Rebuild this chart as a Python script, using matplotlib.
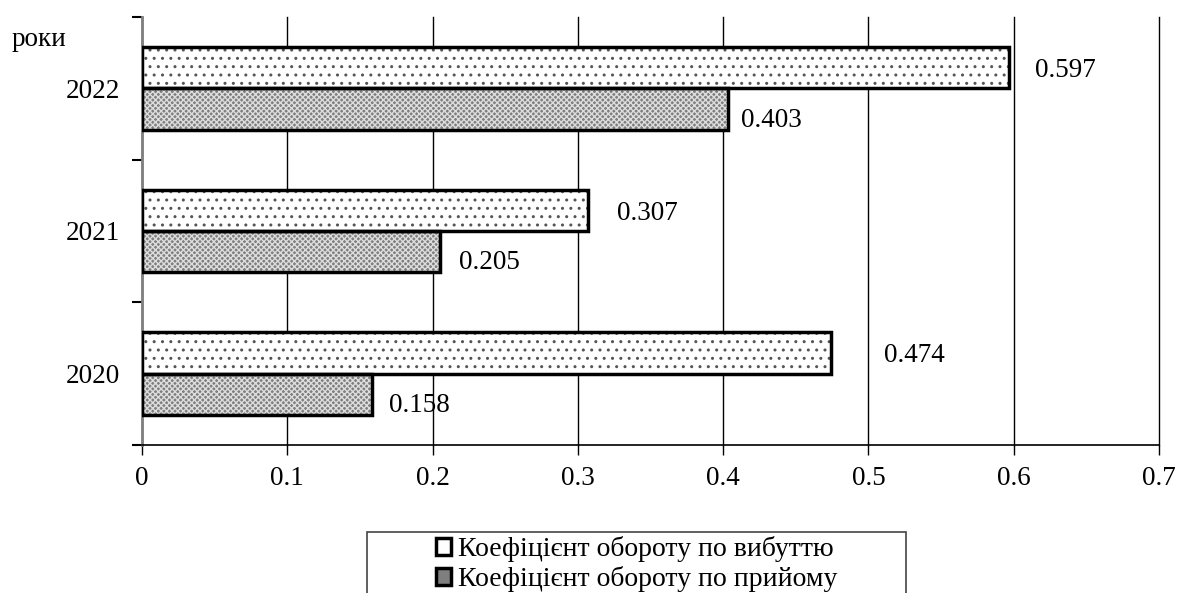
import matplotlib
matplotlib.use("Agg")
import matplotlib.pyplot as plt
import numpy as np
from matplotlib.patches import Patch, Rectangle

years = ["2020", "2021", "2022"]
vybuttia = [0.474, 0.307, 0.597]   # Коефіцієнт обороту по вибуттю
pryiom = [0.158, 0.205, 0.403]     # Коефіцієнт обороту по прийому
series_labels = ["Коефіцієнт обороту по вибуттю", "Коефіцієнт обороту по прийому"]
x_ticks = [0, 0.1, 0.2, 0.3, 0.4, 0.5, 0.6, 0.7]
x_ticklabels = ["0", "0.1", "0.2", "0.3", "0.4", "0.5", "0.6", "0.7"]

plt.rcParams['font.family'] = ['Liberation Serif', 'DejaVu Serif']
plt.rcParams['hatch.linewidth'] = 1.0
FS = 19.5

fig = plt.figure(figsize=(11.78, 5.93), dpi=100)
ax = fig.add_axes([142/1178, 1 - 445/593, (1159-142)/1178, (445-17)/593])

pos = np.arange(len(years))
h = 0.29
# hatch layers
ax.barh(pos + h/2, vybuttia, height=h, color='white', edgecolor='#555555', hatch='..', linewidth=0, zorder=3)
ax.barh(pos - h/2, pryiom, height=h, color='#7f7f7f', edgecolor='#dddddd', hatch='xxxxxx', linewidth=0, zorder=3)
# outlines
ax.barh(pos + h/2, vybuttia, height=h, fill=False, edgecolor='black', linewidth=2.5, zorder=4)
ax.barh(pos - h/2, pryiom, height=h, fill=False, edgecolor='black', linewidth=2.5, zorder=4)

off_v = [53, 29, 26]
off_p = [17, 19, 13]
for i in range(len(years)):
    ax.annotate(f"{vybuttia[i]:.3f}", (vybuttia[i], pos[i] + h/2), xytext=(off_v[i]*0.72, -2),
                textcoords='offset points', va='center', ha='left', fontsize=FS)
    ax.annotate(f"{pryiom[i]:.3f}", (pryiom[i], pos[i] - h/2), xytext=(off_p[i]*0.72, -8),
                textcoords='offset points', va='center', ha='left', fontsize=FS)

ax.set_xlim(0, 0.7)
ax.set_ylim(-0.5, 2.5)
ax.set_xticks(x_ticks)
ax.set_xticklabels(x_ticklabels, fontsize=FS)
ax.set_yticks(pos)
ax.set_yticklabels(years, fontsize=FS)
ax.set_yticks([-0.5, 0.5, 1.5, 2.5], minor=True)
ax.tick_params(axis='y', which='major', length=0, pad=16)
ax.tick_params(axis='y', which='minor', length=7, width=1.5, color='black')
ax.tick_params(axis='x', which='major', length=7, width=1, direction='out', pad=8)

ax.grid(axis='x', color='black', linewidth=1, zorder=0)
for gl in ax.get_xgridlines():
    gl.set_clip_on(False)
for s in ['top', 'right']:
    ax.spines[s].set_visible(False)
ax.spines['left'].set_color('#808080')
ax.spines['left'].set_linewidth(2)
ax.spines['bottom'].set_color('black')
ax.spines['bottom'].set_linewidth(1.2)

fig.text(12/1178, 1 - 40/593, "роки", fontsize=FS, va='center', ha='left')

# legend frame (extends past the bottom edge, as in the reference)
fig.patches.append(Rectangle((367/1178, -0.05), (906-367)/1178, 0.05 + (593-532)/593,
                             transform=fig.transFigure, fill=False, edgecolor='#444444', linewidth=1.2))
handles = [Patch(facecolor='white', edgecolor='black', linewidth=2.5),
           Patch(facecolor='#7f7f7f', edgecolor='black', linewidth=2.5)]
leg = fig.legend(handles, series_labels, loc='upper left', bbox_to_anchor=(436/1178, 1 - 536/593),
                 fontsize=20, frameon=False,
                 handlelength=0.55, handleheight=0.55, handletextpad=0.25, borderpad=0.0,
                 labelspacing=0.15, borderaxespad=0)

fig.savefig("out.png", dpi=100)
